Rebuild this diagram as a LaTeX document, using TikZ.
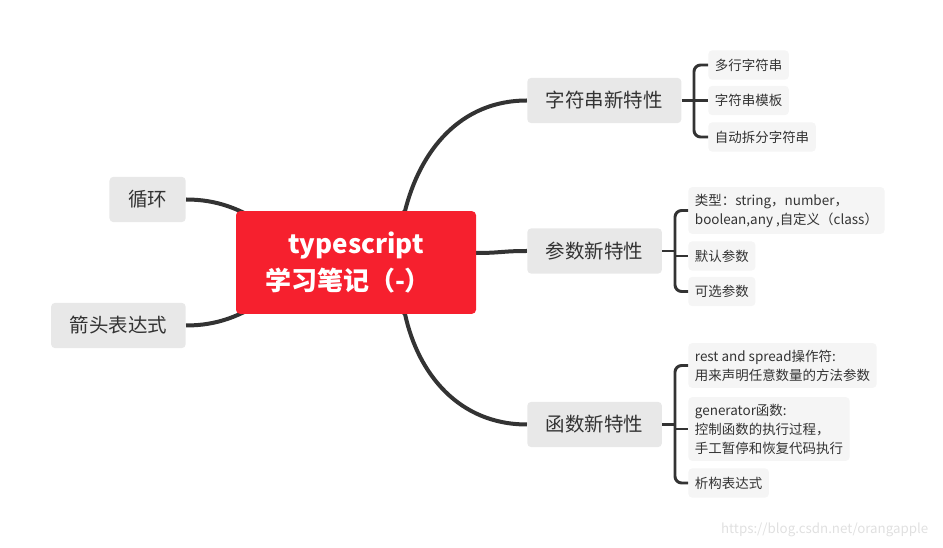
\documentclass[tikz,border=0pt]{standalone}
\usepackage{fontspec}
\setmainfont{Noto Sans CJK SC}
\usetikzlibrary{backgrounds}

\definecolor{rootred}{HTML}{F6202E}
\definecolor{topicgray}{HTML}{E8E8E8}
\definecolor{leafgray}{HTML}{F5F5F5}
\definecolor{linegray}{HTML}{333333}

\begin{document}
\begin{tikzpicture}[x=0.75pt,y=-0.75pt,
  root/.style={fill=rootred,rounded corners=3pt,minimum width=180pt,minimum height=77pt,
    text=white,align=center,font=\fontsize{19.5pt}{27.5pt}\selectfont\bfseries},
  topic/.style={fill=topicgray,rounded corners=3pt,inner xsep=14pt,minimum height=34pt,
    text=linegray,font=\fontsize{14.6pt}{17pt}\selectfont},
  leaf/.style={fill=leafgray,rounded corners=3pt,inner xsep=5pt,inner ysep=5pt,minimum height=22pt,
    anchor=west,align=left,text=linegray,font=\fontsize{10.1pt}{14.25pt}\selectfont},
  branch/.style={draw=linegray,line width=3pt},
  bracket/.style={draw=linegray,line width=2.2pt,rounded corners=5pt}]
  \useasboundingbox (0,0) rectangle (943,548);

  % the centre
  \node[root] (ts) at (356,262.5) {typescript\\学习笔记（-）\hspace*{12pt}};

  % main topics
  \node[topic,anchor=west] (str) at (527,100.5) {字符串新特性};
  \node[topic,anchor=west] (par) at (527,251) {参数新特性};
  \node[topic,anchor=west] (fun) at (527,424.5) {函数新特性};
  \node[topic,anchor=east] (loop) at (186,199.5) {循环};
  \node[topic,anchor=east] (arrow) at (186,325.5) {箭头表达式};

  % leaves of the string topic
  \node[leaf] (s1) at (708,65) {多行字符串};
  \node[leaf] (s2) at (708,100.5) {字符串模板};
  \node[leaf] (s3) at (708,137) {自动拆分字符串};

  % leaves of the parameter topic
  \node[leaf] (p1) at (688,210.5) {类型：string，number，\\boolean,any ,自定义（class）};
  \node[leaf] (p2) at (688,256) {默认参数};
  \node[leaf] (p3) at (688,291.5) {可选参数};

  % leaves of the function topic
  \node[leaf] (f1) at (688,365.5) {rest and spread操作符:\\用来声明任意数量的方法参数};
  \node[leaf] (f2) at (688,429) {generator函数:\\控制函数的执行过程，\\手工暂停和恢复代码执行};
  \node[leaf] (f3) at (688,483) {析构表达式};

  % branch points of the brackets
  \coordinate (sb) at (694,100.5);
  \coordinate (pb) at (675,251);
  \coordinate (fb) at (675,424.5);

  \begin{scope}[on background layer]
    % curves out of the centre
    \draw[branch] (ts.center) -- (405,211) .. controls +(15,-60) and +(-67,0) .. (str.west);
    \draw[branch] (ts.center) -- (476,253) .. controls +(25,0) and +(-25,0) .. (par.west);
    \draw[branch] (ts.center) -- (405,314) .. controls +(13,60) and +(-68,0) .. (fun.west);
    \draw[branch] (loop.east) .. controls +(30,0) and +(-30,-20) .. (270,228) -- (ts.center);
    \draw[branch] (arrow.east) .. controls +(30,0) and +(-30,20) .. (270,297) -- (ts.center);
  \end{scope}

  % brackets
  \draw[bracket] (s1.west) -| (sb) |- (s3.west);
  \draw[bracket] (str.east) -- (s2.west);
  \draw[bracket] (p1.west) -| (pb) |- (p3.west);
  \draw[bracket] (par.east) -- (pb);
  \draw[bracket] (pb |- p2.west) -- (p2.west);
  \draw[bracket] (f1.west) -| (fb) |- (f3.west);
  \draw[bracket] (fun.east) -- (fb);
  \draw[bracket] (fb |- f2.west) -- (f2.west);

  % watermark
  \node[anchor=east,text=black!12,font=\fontsize{10pt}{12pt}\selectfont] (url) at (933,530) {https://blog.csdn.net/orangapple};
\end{tikzpicture}
\end{document}
